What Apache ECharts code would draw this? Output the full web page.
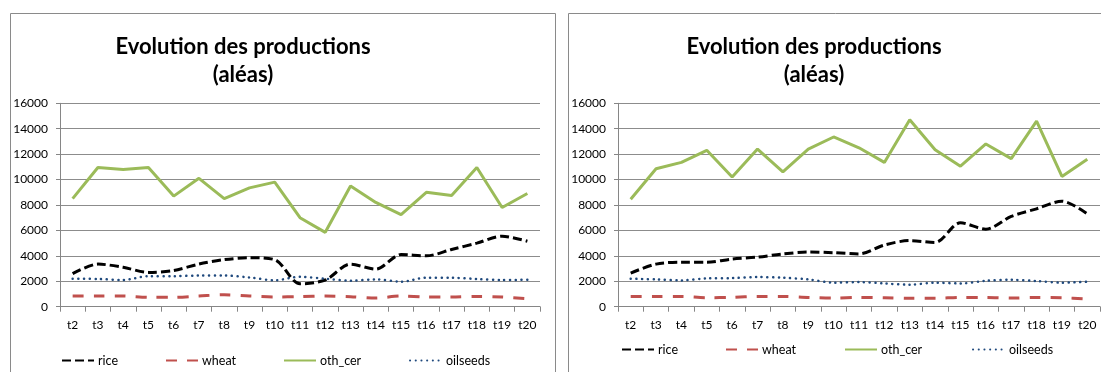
<!DOCTYPE html>
<html>
<head>
<meta charset="utf-8">
<script src="https://cdn.jsdelivr.net/npm/echarts@6/dist/echarts.min.js"></script>
<style>
  html, body { margin: 0; padding: 0; background: #fff; }
  #chart { width: 1101px; height: 372px; }
</style>
</head>
<body>
<div id="chart"></div>
<script>
// Periods on the horizontal axis
const categories = ['t2','t3','t4','t5','t6','t7','t8','t9','t10','t11','t12','t13','t14','t15','t16','t17','t18','t19','t20'];

// Left panel
const riceA   = [2600,3350,3100,2700,2850,3350,3700,3850,3700,1800,2100,3350,2950,4100,4000,4500,5000,5550,5150];
const wheatA  = [840,840,840,740,740,840,940,840,770,790,840,790,680,840,760,760,810,760,630];
const othCerA = [8500,10950,10800,10950,8700,10100,8500,9350,9800,7000,5850,9500,8200,7250,9000,8750,10950,7800,8900];
const oilA    = [2200,2180,2100,2400,2400,2450,2450,2300,2080,2350,2200,2050,2150,1970,2280,2280,2180,2100,2120];

// Right panel
const riceB   = [2650,3350,3500,3500,3750,3900,4150,4300,4250,4150,4850,5200,5050,6600,6100,7100,7700,8300,7300];
const wheatB  = [810,810,810,710,730,810,810,730,680,730,710,660,660,730,730,680,730,710,600];
const othCerB = [8450,10850,11350,12300,10200,12400,10600,12400,13350,12500,11350,14700,12350,11050,12800,11650,14600,10250,11600];
const oilB    = [2200,2150,2070,2230,2250,2330,2280,2150,1890,1940,1830,1730,1890,1830,2040,2120,2020,1890,1960];

const titleText = 'Evolution des productions\n(aléas)';
const FONT = 'Lato, "Open Sans", sans-serif';

const styles = {
  rice:     { color: '#000000', width: 3,   type: [9, 4], smooth: 0.3 },
  wheat:    { color: '#C0504D', width: 3,   type: [11, 10], smooth: 0.3 },
  oth_cer:  { color: '#9BBB59', width: 3,   type: 'solid', smooth: false },
  oilseeds: { color: '#1F497D', width: 2.5, type: [0.1, 5.6], smooth: 0.3, cap: 'round' }
};

function mkSeries(name, data, idx) {
  const s = styles[name];
  return {
    name: name, type: 'line', data: data,
    xAxisIndex: idx, yAxisIndex: idx,
    symbol: 'none', smooth: s.smooth,
    itemStyle: { color: s.color },
    lineStyle: { color: s.color, width: s.width, type: s.type, cap: s.cap || 'butt' },
    emphasis: { disabled: true },
    animation: false
  };
}

function mkX(idx) {
  return {
    type: 'category', gridIndex: idx, data: categories, boundaryGap: true,
    axisLine: { lineStyle: { color: '#868686', width: 1 } },
    axisTick: { show: true, length: 5, lineStyle: { color: '#868686' } },
    axisLabel: { color: '#000', fontSize: 12, fontFamily: FONT, margin: 12, interval: 0 },
    splitLine: { show: false }
  };
}

function mkY(idx) {
  return {
    type: 'value', gridIndex: idx, min: 0, max: 16000, interval: 2000,
    axisLine: { show: true, lineStyle: { color: '#868686', width: 1 } },
    axisTick: { show: true, length: 4, lineStyle: { color: '#868686' } },
    axisLabel: { color: '#000', fontSize: 12, fontFamily: FONT, margin: 12,
                 formatter: v => String(v) },
    splitLine: { show: true, lineStyle: { color: '#8c8c8c', width: 1 } }
  };
}

// One legend entry per series, placed under each panel
function mkLegends(xs, y) {
  const names = ['rice', 'wheat', 'oth_cer', 'oilseeds'];
  return names.map((n, i) => ({
    data: [n], left: xs[i], top: y, orient: 'horizontal',
    itemWidth: 32, itemHeight: 12, itemGap: 4,
    itemStyle: { opacity: 0, borderWidth: 0 },
    textStyle: { color: '#000', fontSize: 12.5, fontFamily: FONT, padding: [0, 0, 0, -1] },
    selectedMode: false
  }));
}

const chart = echarts.init(document.getElementById('chart'), null, { renderer: 'canvas' });

const titleStyle = { fontFamily: FONT, fontWeight: 'bold', fontSize: 22, color: '#000', lineHeight: 28, align: 'center' };

chart.setOption({
  backgroundColor: '#fff',
  animation: false,
  title: [
    { text: titleText, left: 238, top: 28, textAlign: 'center', textStyle: titleStyle },
    { text: titleText, left: 809, top: 28, textAlign: 'center', textStyle: titleStyle }
  ],
  grid: [
    { left: 60, top: 103.3, width: 480, height: 203.4, containLabel: false },
    { left: 618, top: 103.3, width: 482, height: 203.4, containLabel: false }
  ],
  xAxis: [mkX(0), mkX(1)],
  yAxis: [mkY(0), mkY(1)],
  legend: mkLegends([56, 160, 278, 404], 349).concat(mkLegends([616, 720, 839, 967], 338)),
  graphic: [
    { type: 'rect', shape: { x: 10.5, y: 13.5, width: 545, height: 400 },
      style: { fill: 'none', stroke: '#8a8a8a', lineWidth: 1 }, silent: true, z: -1 },
    { type: 'rect', shape: { x: 568.5, y: 13.5, width: 600, height: 400 },
      style: { fill: 'none', stroke: '#8a8a8a', lineWidth: 1 }, silent: true, z: -1 }
  ],
  series: [
    mkSeries('rice', riceA, 0),
    mkSeries('wheat', wheatA, 0),
    mkSeries('oth_cer', othCerA, 0),
    mkSeries('oilseeds', oilA, 0),
    mkSeries('rice', riceB, 1),
    mkSeries('wheat', wheatB, 1),
    mkSeries('oth_cer', othCerB, 1),
    mkSeries('oilseeds', oilB, 1)
  ]
});
</script>
</body>
</html>
